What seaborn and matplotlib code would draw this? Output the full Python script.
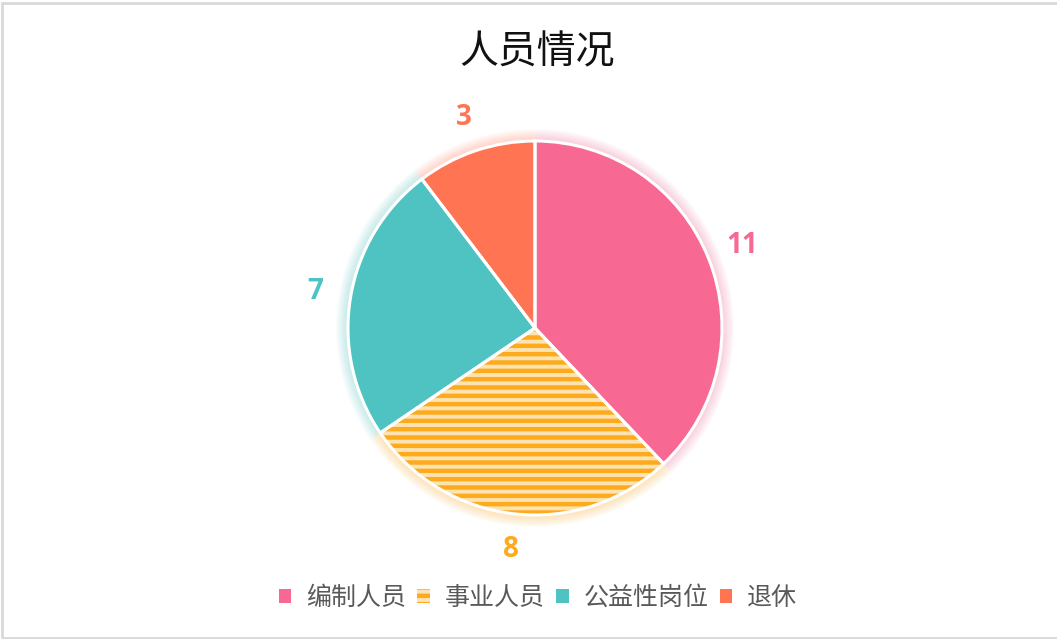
import matplotlib
matplotlib.use("Agg")
import math
import matplotlib.pyplot as plt
import seaborn as sns
from matplotlib.patches import Rectangle

categories = ["编制人员", "事业人员", "公益性岗位", "退休"]
values = [11, 8, 7, 3]
colors = ["#F76893", "#FDAA1C", "#4EC3C1", "#FF7453"]
face_colors = ["#F76893", "#FDE3B2", "#4EC3C1", "#FF7453"]
hatches = [None, "--", None, None]
title = "人员情况"

sns.set_theme(style="white")
plt.rcParams["font.family"] = ["Noto Sans CJK SC", "DejaVu Sans"]
plt.rcParams["hatch.linewidth"] = 3.2

W, H = 1057, 639
fig = plt.figure(figsize=(W / 100, H / 100), dpi=100)
ax = fig.add_axes([0, 0, 1, 1])
R = 187.0
cx, cy = 535.0, 311.0

# soft glow
for k in range(8):
    ax.pie(values, colors=colors, startangle=90, counterclock=False,
           radius=1.0 + 0.008 * (k + 1),
           wedgeprops=dict(linewidth=0, alpha=0.045))

wedges, _ = ax.pie(values, colors=face_colors, startangle=90, counterclock=False,
                   radius=1.0, wedgeprops=dict(linewidth=0))
for w, h, c in zip(wedges, hatches, colors):
    if h:
        w.set_hatch(h)
        w.set_edgecolor(c)
        w.set_linewidth(0)

ax.pie(values, colors=["none"] * len(values), startangle=90, counterclock=False,
       radius=1.0, wedgeprops=dict(linewidth=2.2, edgecolor="white", facecolor="none"))

ax.set_xlim(-cx / R, (W - cx) / R)
ax.set_ylim(-cy / R, (H - cy) / R)
ax.set_aspect("equal")
ax.axis("off")

# value labels
total = sum(values)
acc = 0
for v, c in zip(values, colors):
    mid = 90 - (acc + v / 2) / total * 360
    acc += v
    r = 1.19
    ax.text(r * math.cos(math.radians(mid)), r * math.sin(math.radians(mid)), str(v),
            ha="center", va="center", color=c, fontsize=20, fontweight="bold",
            family=["Open Sans", "DejaVu Sans"])

fig.text(537 / W, 1 - 52 / H, title, ha="center", va="center", fontsize=28, color="#111111")

leg = fig.legend(wedges, categories, loc="center", bbox_to_anchor=(0.509, 41 / H), ncol=4,
                 frameon=False, fontsize=18, handlelength=0.5, handleheight=0.5,
                 handletextpad=0.6, columnspacing=0.45, labelcolor="#595959")

fig.patches.append(Rectangle((0.002, 0.002), 1.2, 0.994, transform=fig.transFigure,
                             fill=False, edgecolor="#D9D9D9", linewidth=2))

fig.savefig("out.png", dpi=100)
